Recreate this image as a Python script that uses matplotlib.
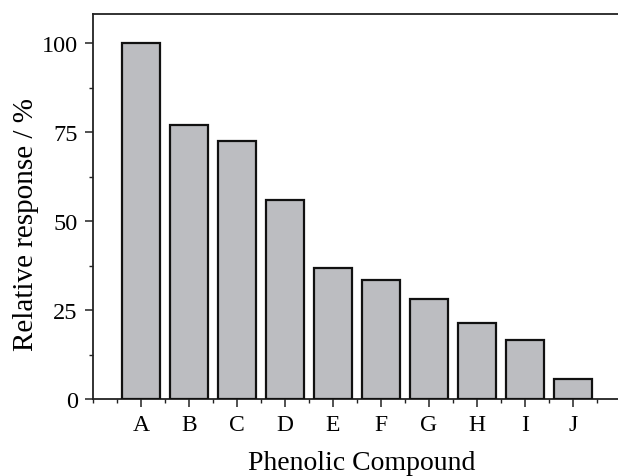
import matplotlib
matplotlib.use("Agg")
import matplotlib.pyplot as plt
from matplotlib.ticker import MultipleLocator

# data
compounds = ["A", "B", "C", "D", "E", "F", "G", "H", "I", "J"]
response = [100, 77.0, 72.4, 55.9, 36.8, 33.5, 28.1, 21.4, 16.7, 5.7]

plt.rcParams['font.family'] = ['Liberation Serif', 'DejaVu Serif']

fig = plt.figure(figsize=(6.18, 4.77), dpi=100)
ax = fig.add_axes([0.1505, 0.1614, 0.87, 0.8072])

pos = list(range(1, len(compounds) + 1))
ax.bar(pos, response, width=0.78, color="#bcbdc1", edgecolor="#111111", linewidth=1.6, zorder=3)

ax.set_xlim(0, 11.2)
ax.set_ylim(0, 108.2)
ax.set_xticks(pos)
ax.set_xticklabels(compounds)
ax.xaxis.set_minor_locator(MultipleLocator(0.5))
ax.yaxis.set_major_locator(MultipleLocator(25))
ax.yaxis.set_minor_locator(MultipleLocator(12.5))

ax.tick_params(axis="both", which="major", direction="out", length=6, width=1.1, color="#222222")
ax.tick_params(axis="both", which="minor", direction="out", length=3, width=1.0, color="#222222")
ax.tick_params(axis="y", labelsize=17.5, pad=5)
ax.tick_params(axis="x", labelsize=17, pad=5)

for s in ax.spines.values():
    s.set_linewidth(1.3)
    s.set_color("#222222")

ax.set_xlabel("Phenolic Compound", fontsize=20)
ax.xaxis.set_label_coords(0.5, -0.133)
ax.set_ylabel("Relative response / %", fontsize=21)
ax.yaxis.set_label_coords(-0.1, 0.455)

fig.savefig("out.png", dpi=100)
